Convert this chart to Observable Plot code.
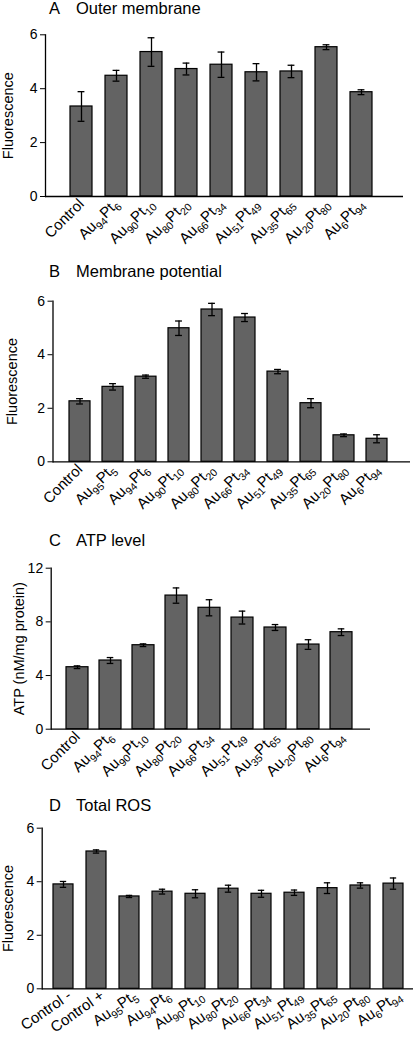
<!DOCTYPE html>
<html><head><meta charset="utf-8">
<script src="https://cdn.jsdelivr.net/npm/d3@7"></script>
<script src="https://cdn.jsdelivr.net/npm/@observablehq/plot@0.6"></script>
<style>
body{margin:0;background:#fff;font-family:"Liberation Sans",Arial,sans-serif;}
#root{position:relative;width:417px;height:1041px;overflow:hidden;background:#fff}
.title{position:absolute;font-size:16.5px;line-height:17px;color:#000;white-space:pre}
</style></head><body><div id="root"></div>
<script>
// Panel A: Outer membrane
const catsA = ["Control","Au94Pt6","Au90Pt10","Au80Pt20","Au66Pt34","Au51Pt49","Au35Pt65","Au20Pt80","Au6Pt94"];
const valsA = [3.34, 4.48, 5.36, 4.73, 4.89, 4.61, 4.64, 5.54, 3.87];
const errA  = [0.55, 0.20, 0.53, 0.22, 0.47, 0.32, 0.23, 0.09, 0.09];

// Panel B: Membrane potential
const catsB = ["Control","Au95Pt5","Au94Pt6","Au90Pt10","Au80Pt20","Au66Pt34","Au51Pt49","Au35Pt65","Au20Pt80","Au6Pt94"];
const valsB = [2.26, 2.80, 3.18, 4.99, 5.69, 5.39, 3.37, 2.19, 0.99, 0.86];
const errB  = [0.10, 0.12, 0.06, 0.27, 0.23, 0.15, 0.08, 0.17, 0.05, 0.15];

// Panel C: ATP level
const catsC = ["Control","Au94Pt6","Au90Pt10","Au80Pt20","Au66Pt34","Au51Pt49","Au35Pt65","Au20Pt80","Au6Pt94"];
const valsC = [4.62, 5.12, 6.26, 9.96, 9.05, 8.32, 7.58, 6.31, 7.23];
const errC  = [0.10, 0.22, 0.10, 0.57, 0.60, 0.48, 0.22, 0.36, 0.25];

// Panel D: Total ROS
const catsD = ["Control -","Control +","Au95Pt5","Au94Pt6","Au90Pt10","Au80Pt20","Au66Pt34","Au51Pt49","Au35Pt65","Au20Pt80","Au6Pt94"];
const valsD = [3.90, 5.13, 3.45, 3.63, 3.55, 3.74, 3.55, 3.59, 3.76, 3.86, 3.93];
const errD  = [0.11, 0.06, 0.04, 0.09, 0.15, 0.13, 0.13, 0.10, 0.20, 0.10, 0.21];

const titles = [["A","Outer membrane"],["B","Membrane potential"],["C","ATP level"],["D","Total ROS"]];
const yLabels = ["Fluorescence","Fluorescence","ATP (nM/mg protein)","Fluorescence"];
const yDomains = [[0,6],[0,6],[0,12],[0,6]];
const yTicks = [[0,2,4,6],[0,2,4,6],[0,4,8,12],[0,2,4,6]];

const root = document.getElementById("root");

function addTitle(letter, text, top) {
  const a = document.createElement("div"); a.className = "title"; a.style.left = "49px"; a.style.top = top + "px"; a.textContent = letter; root.appendChild(a);
  const b = document.createElement("div"); b.className = "title"; b.style.left = "76px"; b.style.top = top + "px"; b.textContent = text; root.appendChild(b);
}

function restyle(svg) {
  const s = d3.select(svg);
  s.selectAll('g[aria-label="y-axis tick label"] text').style("font-size", "14px");
  s.selectAll('g[aria-label="y-axis label"] text').style("font-size", "14.5px");
  s.selectAll('g[aria-label="x-axis tick label"] text').each(function() {
    const t = d3.select(this);
    t.style("font-size", "15px");
    const str = t.text();
    const m = str.match(/^Au(\d+)Pt(\d+)$/);
    if (!m) return;
    t.text(null);
    t.append("tspan").text("Au");
    t.append("tspan").attr("dy", 4).style("font-size", "10.5px").text(m[1]);
    t.append("tspan").attr("dy", -4).text("Pt");
    t.append("tspan").attr("dy", 4).style("font-size", "10.5px").text(m[2]);
  });
}

function panel(i, cats, vals, errs, cfg) {
  const data = cats.map((c, k) => ({c, v: vals[k], e: errs[k]}));
  const n = cats.length;
  const step = (cfg.c1 - cfg.c0) / (n - 1);
  const range = [cfg.c0 - step / 2, cfg.c1 + step / 2];
  const bw = step * (1 - cfg.pad);
  const capInset = Math.max(0, (bw - 7) / 2);
  const chart = Plot.plot({
    width: 417, height: cfg.height,
    marginTop: cfg.mt, marginBottom: cfg.height - cfg.y0, marginLeft: cfg.ml, marginRight: 417 - cfg.xr,
    style: {fontFamily: "'Liberation Sans', Arial, sans-serif", fontSize: "13px", color: "#000", background: "transparent", overflow: "visible"},
    x: {domain: cats, range, paddingInner: cfg.pad, paddingOuter: cfg.pad / 2, label: null},
    y: {domain: yDomains[i], label: null},
    marks: [
      Plot.barY(data, {x: "c", y: "v", fill: "#636363", stroke: "#000", strokeWidth: 1.2}),
      Plot.ruleX(data, {x: "c", y1: d => d.v - d.e, y2: d => d.v + d.e, stroke: "#000", strokeWidth: 1.3}),
      Plot.tickY(data, {x: "c", y: d => d.v + d.e, stroke: "#000", strokeWidth: 1.3, insetLeft: capInset, insetRight: capInset}),
      Plot.tickY(data, {x: "c", y: d => d.v - d.e, stroke: "#000", strokeWidth: 1.3, insetLeft: capInset, insetRight: capInset}),
      Plot.frame({anchor: "left", stroke: "#000", strokeWidth: 1.3}),
      Plot.ruleY([0], {stroke: "#000", strokeWidth: 1.3}),
      Plot.axisY({ticks: yTicks[i], tickFormat: d => String(d), tickSize: 5, tickPadding: 3, label: yLabels[i], labelAnchor: "center", labelArrow: "none", labelOffset: cfg.ml - cfg.lx}),
      Plot.axisX({tickSize: 0, tickPadding: cfg.tp, tickRotate: cfg.rot, dx: cfg.dx, label: null})
    ]
  });
  restyle(chart);
  chart.style.top = cfg.top + "px";
  chart.style.left = "0px";
  chart.style.position = "absolute";
  chart.style.maxWidth = "none";
  root.appendChild(chart);
}

addTitle(titles[0][0], titles[0][1], 0);
panel(0, catsA, valsA, errA, {top: 20, height: 226, mt: 14.3, y0: 176, ml: 45, xr: 403, c0: 78, c1: 364, pad: 0.38, lx: 2, rot: -45, dx: 0, tp: 5});

addTitle(titles[1][0], titles[1][1], 263);
panel(1, catsB, valsB, errB, {top: 285, height: 226, mt: 15.7, y0: 176.3, ml: 52.5, xr: 410, c0: 80, c1: 377, pad: 0.36, lx: 6, rot: -45, dx: 0, tp: 5});

addTitle(titles[2][0], titles[2][1], 531.5);
panel(2, catsC, valsC, errC, {top: 552, height: 226, mt: 15.7, y0: 176.7, ml: 50.7, xr: 370, c0: 75.5, c1: 343, pad: 0.33, lx: 13, rot: -45, dx: 0, tp: 5});

addTitle(titles[3][0], titles[3][1], 796.5);
panel(3, catsD, valsD, errD, {top: 815, height: 226, mt: 12.7, y0: 173.3, ml: 41.7, xr: 413, c0: 62, c1: 395, pad: 0.38, lx: 2, rot: -35, dx: 6, tp: 5});
</script>
</body></html>
